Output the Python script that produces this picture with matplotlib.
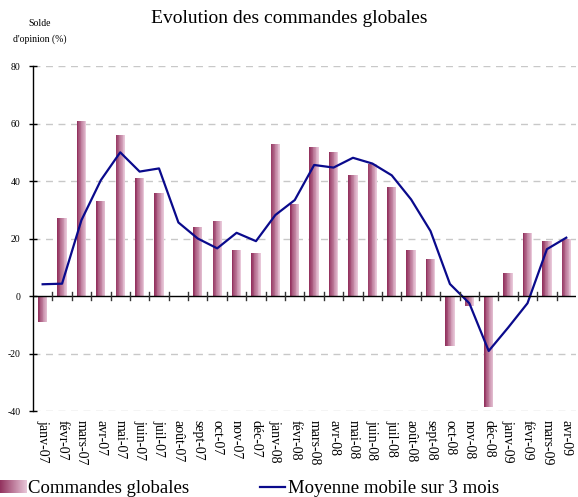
import numpy as np
import matplotlib
matplotlib.use("Agg")
import matplotlib.pyplot as plt
from matplotlib.colors import LinearSegmentedColormap, to_rgb

months = ["janv-07", "févr-07", "mars-07", "avr-07", "mai-07", "juin-07", "juil-07",
          "août-07", "sept-07", "oct-07", "nov-07", "déc-07",
          "janv-08", "févr-08", "mars-08", "avr-08", "mai-08", "juin-08", "juil-08",
          "août-08", "sept-08", "oct-08", "nov-08", "déc-08",
          "janv-09", "févr-09", "mars-09", "avr-09"]
commandes = [-9, 27, 61, 33, 56, 41, 36, np.nan, 24, 26, 16, 15,
             53, 32, 52, 50, 42, 46, 38, 16, 13, -17.5, -3.4, -38.5,
             8, 22, 19, 20]
moyenne = [4.1, 4.3, 26.4, 40.3, 50, 43.3, 44.4, 25.6, 20, 16.6, 22, 19.1,
           28.2, 33.4, 45.6, 44.7, 48.1, 46.1, 42, 33.6, 22.6, 4.2, -2.5, -19.1,
           -11, -2.5, 16.3, 20.3]
yticks = [-40, -20, 0, 20, 40, 60, 80]

dark = to_rgb("#93335F")
light = to_rgb("#E8C6D8")
cmap = LinearSegmentedColormap.from_list("pinkgrad", [dark, light])

plt.rcParams['font.family'] = ['Liberation Serif', 'DejaVu Serif']

fig = plt.figure(figsize=(5.78, 4.97), dpi=100)
ax = fig.add_axes([0.057, 0.173, 0.9395, 0.694])

x = np.arange(len(months))
bw = 0.48
nslices = 12
sw = bw / nslices
vals = np.array(commandes, dtype=float)
for k in range(nslices):
    off = -bw / 2 + sw * (k + 0.5)
    ax.bar(x + off, np.nan_to_num(vals), width=sw * 1.02, color=cmap(k / (nslices - 1)),
           linewidth=0, zorder=2)

ax.plot(x, moyenne, color="#0A0A8C", linewidth=1.6, zorder=3)

ax.set_xlim(-0.5, len(months) - 0.5)
ax.set_ylim(-40, 80)
ax.set_yticks(yticks)
ax.set_yticklabels([str(v) for v in yticks], fontsize=7)
for v in yticks:
    if v != 0:
        ax.axhline(v, color="#C8C8C8", linestyle=(0, (5, 4)), linewidth=1.0, zorder=1)
ax.axhline(0, color="black", linewidth=1.0, zorder=4)

for s in ["top", "right", "bottom"]:
    ax.spines[s].set_visible(False)
ax.spines["left"].set_linewidth(1.0)
ax.tick_params(axis="y", direction="inout", length=6, width=1.0, pad=6)
ax.set_xticks([])

# category boundary ticks on zero line
for b in np.arange(0.5, len(months) - 0.5, 1.0):
    ax.plot([b, b], [-1.3, 1.3], color="#333333", linewidth=1.0, zorder=5, clip_on=False)

# month labels below the axes
for i, m in enumerate(months):
    ax.text(i, -43.0, m, rotation=-90, ha="center", va="top", fontsize=10,
            transform=ax.transData, clip_on=False)

fig.text(0.5, 0.962, "Evolution des commandes globales", ha="center", va="center", fontsize=14)
fig.text(0.069, 0.952, "Solde", ha="center", va="center", fontsize=7)
fig.text(0.069, 0.921, "d'opinion (%)", ha="center", va="center", fontsize=7)

# legend
sax = fig.add_axes([0.0, 0.008, 0.045, 0.027])
sax.imshow(np.linspace(0, 1, 50)[None, :], cmap=cmap, aspect="auto")
sax.axis("off")
fig.text(0.049, 0.018, "Commandes globales", ha="left", va="center", fontsize=13.5)
fig.add_artist(plt.Line2D([0.449, 0.493], [0.02, 0.02], color="#0A0A8C", linewidth=1.6,
                          transform=fig.transFigure))
fig.text(0.499, 0.018, "Moyenne mobile sur 3 mois", ha="left", va="center", fontsize=13.5)

fig.savefig("out.png", dpi=100)
